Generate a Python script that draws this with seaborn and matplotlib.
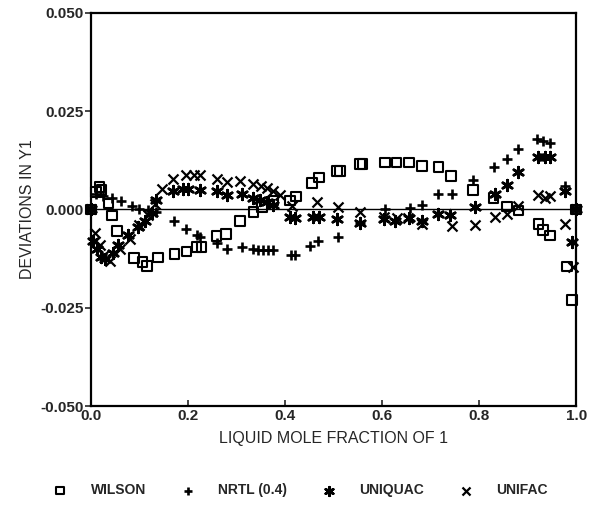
import matplotlib
matplotlib.use("Agg")
import matplotlib.pyplot as plt
import seaborn as sns
import pandas as pd

sns.set_style("ticks")
plt.rcParams["font.family"] = ["Liberation Sans", "DejaVu Sans"]

# deviations in vapour mole fraction of component 1
wilson_x = [0.000, 0.010, 0.018, 0.022, 0.036, 0.043, 0.054, 0.089, 0.106, 0.115,
            0.138, 0.172, 0.197, 0.218, 0.228, 0.259, 0.278, 0.307, 0.335, 0.352,
            0.376, 0.410, 0.423, 0.455, 0.470, 0.507, 0.513, 0.555, 0.560, 0.606,
            0.630, 0.656, 0.682, 0.716, 0.742, 0.788, 0.830, 0.857, 0.881, 0.922,
            0.931, 0.946, 0.981, 0.991, 1.000]
wilson_y = [0.0000, 0.0045, 0.0058, 0.0050, 0.0015, -0.0015, -0.0055, -0.0124, -0.0133, -0.0143,
            -0.0122, -0.0113, -0.0107, -0.0096, -0.0096, -0.0068, -0.0062, -0.0030, -0.0007, 0.0006,
            0.0023, 0.0023, 0.0033, 0.0067, 0.0081, 0.0098, 0.0098, 0.0115, 0.0115, 0.0120,
            0.0120, 0.0120, 0.0110, 0.0108, 0.0085, 0.0050, 0.0030, 0.0008, -0.0003, -0.0037,
            -0.0052, -0.0066, -0.0145, -0.0230, 0.0000]

nrtl_x = [0.000, 0.010, 0.025, 0.043, 0.063, 0.084, 0.100, 0.118, 0.135, 0.172,
          0.197, 0.218, 0.225, 0.259, 0.280, 0.311, 0.335, 0.345, 0.355, 0.365,
          0.376, 0.413, 0.420, 0.452, 0.469, 0.510, 0.555, 0.606, 0.658, 0.682,
          0.716, 0.744, 0.788, 0.830, 0.857, 0.881, 0.919, 0.931, 0.946, 0.977, 1.000]
nrtl_y = [0.0000, 0.0040, 0.0035, 0.0030, 0.0022, 0.0008, 0.0002, -0.0002, -0.0006, -0.0030,
          -0.0049, -0.0065, -0.0070, -0.0086, -0.0100, -0.0096, -0.0100, -0.0102, -0.0104, -0.0104,
          -0.0104, -0.0117, -0.0117, -0.0094, -0.0079, -0.0069, -0.0035, 0.0002, 0.0003, 0.0012,
          0.0040, 0.0040, 0.0074, 0.0108, 0.0129, 0.0155, 0.0180, 0.0175, 0.0170, 0.0061, 0.0000]

uniquac_x = [0.000, 0.005, 0.012, 0.020, 0.030, 0.045, 0.056, 0.077, 0.098, 0.111,
             0.125, 0.135, 0.170, 0.190, 0.200, 0.225, 0.259, 0.280, 0.311, 0.335,
             0.348, 0.362, 0.375, 0.410, 0.420, 0.458, 0.470, 0.507, 0.555, 0.603,
             0.627, 0.656, 0.682, 0.716, 0.740, 0.792, 0.833, 0.857, 0.881, 0.922,
             0.936, 0.946, 0.977, 0.991, 1.000]
uniquac_y = [0.0000, -0.0080, -0.0100, -0.0120, -0.0125, -0.0110, -0.0090, -0.0065, -0.0045, -0.0030,
             -0.0010, 0.0023, 0.0048, 0.0053, 0.0053, 0.0050, 0.0048, 0.0038, 0.0040, 0.0030,
             0.0023, 0.0018, 0.0012, -0.0020, -0.0022, -0.0020, -0.0018, -0.0024, -0.0035, -0.0025,
             -0.0028, -0.0022, -0.0030, -0.0011, -0.0015, 0.0006, 0.0040, 0.0063, 0.0095, 0.0133,
             0.0133, 0.0133, 0.0048, -0.0083, 0.0000]

unifac_x = [0.000, 0.008, 0.018, 0.028, 0.040, 0.060, 0.080, 0.100, 0.118, 0.132,
            0.146, 0.170, 0.197, 0.212, 0.225, 0.259, 0.280, 0.307, 0.335, 0.350,
            0.362, 0.376, 0.390, 0.415, 0.465, 0.510, 0.555, 0.603, 0.630, 0.654,
            0.682, 0.744, 0.792, 0.833, 0.857, 0.881, 0.922, 0.936, 0.946, 0.977,
            0.994, 1.000]
unifac_y = [0.0000, -0.0060, -0.0090, -0.0115, -0.0130, -0.0100, -0.0075, -0.0040, -0.0015, 0.0015,
            0.0053, 0.0078, 0.0087, 0.0087, 0.0087, 0.0078, 0.0070, 0.0072, 0.0066, 0.0060,
            0.0055, 0.0048, 0.0036, 0.0010, 0.0019, 0.0006, -0.0007, -0.0018, -0.0022, -0.0022,
            -0.0036, -0.0042, -0.0040, -0.0020, -0.0011, 0.0010, 0.0036, 0.0030, 0.0034, -0.0037,
            -0.0145, 0.0000]

fig = plt.figure(figsize=(5.94, 5.16), dpi=100)
ax = fig.add_axes([0.153, 0.213, 0.817, 0.762])

ax.axhline(0, color="black", lw=1.0, zorder=1)

sns.scatterplot(x=wilson_x, y=wilson_y, ax=ax, marker="s", s=48,
                facecolor="none", edgecolor="black", linewidth=1.5,
                label="WILSON", clip_on=False, zorder=3)
sns.scatterplot(x=nrtl_x, y=nrtl_y, ax=ax, marker="+", s=60,
                color="black", linewidth=1.9,
                label="NRTL (0.4)", clip_on=False, zorder=3)
sns.scatterplot(x=uniquac_x, y=uniquac_y, ax=ax, marker=(6, 2, 0), s=60,
                color="black", linewidth=1.9,
                label="UNIQUAC", clip_on=False, zorder=3)
sns.scatterplot(x=unifac_x, y=unifac_y, ax=ax, marker="x", s=52,
                color="black", linewidth=1.6,
                label="UNIFAC", clip_on=False, zorder=3)

ax.set_xlim(0, 1.0)
ax.set_ylim(-0.05, 0.05)
ax.set_xticks([0.0, 0.2, 0.4, 0.6, 0.8, 1.0])
ax.set_xticklabels(["0.0", "0.2", "0.4", "0.6", "0.8", "1.0"])
ax.set_yticks([-0.05, -0.025, 0.0, 0.025, 0.05])
ax.set_yticklabels(["-0.050", "-0.025", "0.000", "0.025", "0.050"])
for sp in ax.spines.values():
    sp.set_linewidth(1.6)
    sp.set_color("black")
ax.tick_params(axis="y", direction="out", length=4, width=1.2, labelsize=11, pad=1)
ax.tick_params(axis="x", direction="in", length=4, width=1.2, labelsize=11, pad=2)
for lab in ax.get_xticklabels() + ax.get_yticklabels():
    lab.set_fontweight("bold")

ax.set_xlabel("LIQUID MOLE FRACTION OF 1", fontsize=11.5, labelpad=6)
ax.set_ylabel("DEVIATIONS IN Y1", fontsize=11.5, labelpad=4)

handles, labels = ax.get_legend_handles_labels()
ax.legend_.remove()
fig.legend(handles, labels, loc="center", bbox_to_anchor=(0.5, 0.05), ncol=4,
           frameon=False, handletextpad=1.2, columnspacing=2.0, markerscale=0.8,
           prop={"weight": "bold", "size": 10})

fig.savefig("out.png", dpi=100)
